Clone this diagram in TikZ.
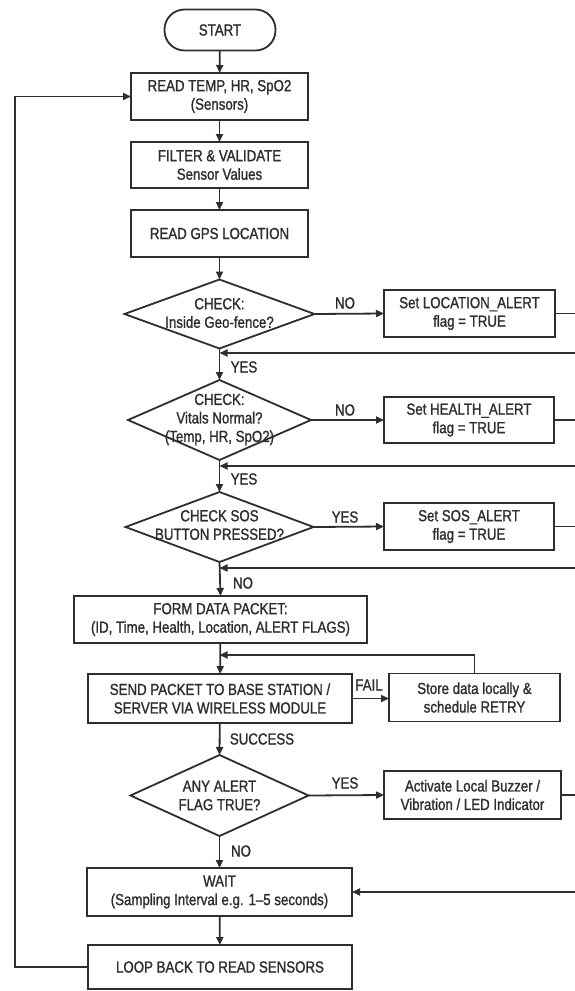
\documentclass[tikz,border=0pt]{standalone}
\usepackage{fontspec}
\setmainfont{Liberation Sans}[FakeStretch=0.83,FakeBold=1.2]
\usetikzlibrary{arrows.meta,shapes.geometric}
\definecolor{ink}{HTML}{2E2E2E}
\begin{document}
\begin{tikzpicture}[x=1pt,y=-1pt,
  every node/.style={text=ink, font=\fontsize{16}{18.5}\selectfont, align=center},
  box/.style={draw=ink, line width=1.8pt, inner sep=0pt, outer sep=0pt, fill=white},
  term/.style={box, rounded corners=20pt},
  dia/.style={diamond, draw=ink, line width=1.8pt, inner sep=0pt, outer sep=0pt, fill=white},
  line/.style={draw=ink, line width=1.8pt},
  arr/.style={line, -{Triangle[length=8pt,width=7pt]}},
  lbl/.style={inner sep=0pt}]
\useasboundingbox[fill=white] (0,0) rectangle (575,991);

% main column
\node[term, minimum width=111pt, minimum height=41pt] (start) at (220,30) {START};
\node[box, minimum width=177pt, minimum height=47pt] (read) at (219.5,96.5) {READ TEMP, HR, SpO2\\(Sensors)};
\node[box, minimum width=177pt, minimum height=46pt] (filter) at (219.5,165) {FILTER \& VALIDATE\\Sensor Values};
\node[box, minimum width=177pt, minimum height=47pt] (gps) at (219.5,233.5) {READ GPS LOCATION};

\node[dia, minimum width=190pt, minimum height=69pt] (d1) at (219.5,314) {};
\node (d1t) at (219.5,313) {CHECK:\\Inside Geo-fence?};
\node[dia, minimum width=183pt, minimum height=80pt] (d2) at (219.5,420) {};
\node (d2t) at (219.5,419.5) {CHECK:\\Vitals Normal?\\(Temp, HR, SpO2)};
\node[dia, minimum width=188pt, minimum height=70pt] (d3) at (219.5,527) {};
\node (d3t) at (219.5,525) {CHECK SOS\\BUTTON PRESSED?};

\node[box, minimum width=293pt, minimum height=47pt] (form) at (220.5,619.5) {FORM DATA PACKET:\\(ID, Time, Health, Location, ALERT FLAGS)};
\node[box, minimum width=264pt, minimum height=49pt] (send) at (220,698.5) {SEND PACKET TO BASE STATION /\\SERVER VIA WIRELESS MODULE};
\node[dia, minimum width=178pt, minimum height=81pt] (d4) at (219.5,795.5) {};
\node (d4t) at (219.5,795.5) {ANY ALERT\\FLAG TRUE?};
\node[box, minimum width=265pt, minimum height=48pt] (wait) at (219.5,892) {WAIT\\(Sampling Interval e.g. 1--5 seconds)};
\node[box, minimum width=264pt, minimum height=44pt] (loop) at (220,967) {LOOP BACK TO READ SENSORS};

% right column
\node[box, minimum width=171pt, minimum height=47pt] (loc) at (469.5,313.5) {Set LOCATION\_ALERT\\flag = TRUE};
\node[box, minimum width=170pt, minimum height=46pt] (health) at (469,420) {Set HEALTH\_ALERT\\flag = TRUE};
\node[box, minimum width=170pt, minimum height=47pt] (sos) at (469,526.5) {Set SOS\_ALERT\\flag = TRUE};
\node[box, minimum width=171pt, minimum height=48pt] (store) at (474.5,697.5) {Store data locally \&\\schedule RETRY};
\node[box, minimum width=177pt, minimum height=48pt] (act) at (472.5,795) {Activate Local Buzzer /\\Vibration / LED Indicator};

% coordinates
\coordinate (r1) at (575,313.5);
\coordinate (r2) at (575,420);
\coordinate (r3) at (575,526.5);
\coordinate (r4) at (575,795);
\coordinate (m1r) at (575,353);
\coordinate (m1) at (219.5,353);
\coordinate (m2r) at (575,466);
\coordinate (m2) at (219.5,466);
\coordinate (m3r) at (575,568);
\coordinate (m3) at (219.5,568);
\coordinate (m4) at (219.5,655);
\coordinate (wr) at (575,892);
\coordinate (lb) at (15,967);

% main flow
\draw[arr] (start) -- (read);
\draw[arr] (read) -- (filter);
\draw[arr] (filter) -- (gps);
\draw[arr] (gps) -- (d1.north);
\draw[arr] (d1.south) -- (d2.north);
\draw[arr] (d2.south) -- (d3.north);
\draw[arr] (d3.south) -- (form.north);
\draw[arr] (form) -- (send);
\draw[arr] (send) -- (d4.north);
\draw[arr] (d4.south) -- (wait.north);
\draw[arr] (wait) -- (loop);

% branches
\draw[arr] (d1.east) -- (loc.west);
\draw[arr] (d2.east) -- (health.west);
\draw[arr] (d3.east) -- (sos.west);
\draw[arr] (d4.east) -- (act.west);
\draw[arr] (send.east) -- (send.east -| store.west);

\draw[line] (loc.east) -- (r1);
\draw[line] (health.east) -- (r2);
\draw[line] (sos.east) -- (r3);
\draw[line] (act.east) -- (r4);

\draw[arr] (m1r) -- (m1);
\draw[arr] (m2r) -- (m2);
\draw[arr] (m3r) -- (m3);
\draw[arr] (store.north) |- (m4);
\draw[arr] (wr) -- (wait.east);

% loop back
\draw[arr] (loop.west) -- (lb) |- (read.west);

% labels
\node[lbl] at (345,303) {NO};
\node[lbl] at (244,367) {YES};
\node[lbl] at (345,410) {NO};
\node[lbl] at (244,479) {YES};
\node[lbl] at (345,517) {YES};
\node[lbl] at (243,583) {NO};
\node[lbl] at (369,685) {FAIL};
\node[lbl] at (262,739) {SUCCESS};
\node[lbl] at (345,783) {YES};
\node[lbl] at (241,851) {NO};
\end{tikzpicture}
\end{document}
